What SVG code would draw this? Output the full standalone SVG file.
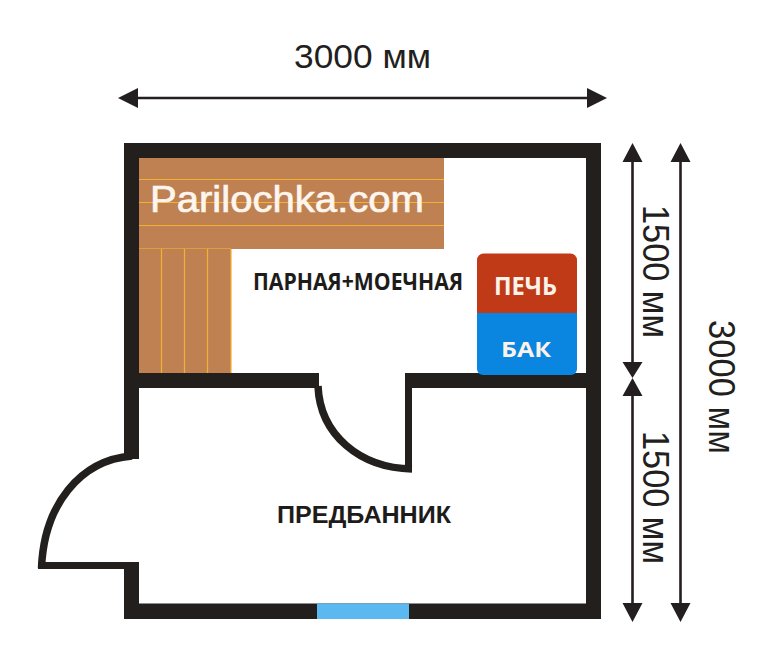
<svg xmlns="http://www.w3.org/2000/svg" width="768" height="668" viewBox="0 0 768 668">
<style>
.wall{fill:#231f1c}
.arc{fill:none;stroke:#231f1c;stroke-width:7.500}
.seam{stroke:#f2b132;stroke-width:1.2;fill:none}
.dim{stroke:#231f20;stroke-width:2.6;fill:none}
.head{fill:#231f20}
.d{font-family:"Liberation Sans",Arial,sans-serif;font-size:33px;fill:#231f20}
.v{font-size:37px}
.l{font-family:"Open Sans","Noto Sans",sans-serif;font-weight:700;fill:#1e1c1a}
.w{font-family:"Open Sans","Noto Sans",sans-serif;font-weight:700;fill:#fbf3ea}
</style>
<rect width="768" height="668" fill="#fff"/>
<g id="bench">
<path d="M139 157H444V249H231V373H139Z" fill="#bf8152"/>
<path class="seam" d="M139 179.500H444M139 202.500H444M139 225.500H444M161.500 249V373M184.500 249V373M207.500 249V373M231 249V373"/>
<path d="M139 248.500H231" stroke="#f2b132" stroke-width="0.6" fill="none"/>
</g>
<g id="walls">
<rect class="wall" x="124" y="143" width="477" height="15"/>
<rect class="wall" x="124" y="143" width="15" height="316"/>
<rect class="wall" x="586" y="143" width="15" height="476"/>
<rect class="wall" x="124" y="603.500" width="477" height="15.500"/>
<rect class="wall" x="124" y="562" width="15" height="57"/>
<rect class="wall" x="38" y="562" width="86" height="7"/>
<rect class="wall" x="124" y="373" width="195" height="15"/>
<rect class="wall" x="405" y="373" width="196" height="15"/>
<rect class="wall" x="405" y="373" width="7" height="99"/>
<path class="arc" d="M318 386C320 435 360 468 412 469"/>
<path class="arc" d="M132 456C80 460 44 505 41.500 568"/>
</g>
<rect id="window" x="317" y="603.500" width="92" height="15.500" fill="#5bb8f1"/>
<g id="stove"><path d="M477 313V260a6.500 6.500 0 0 1 6.500-6.500H570.500a6.500 6.500 0 0 1 6.500 6.500V313Z" fill="#c03a17"/><text class="w" x="525.500" y="295" text-anchor="middle" font-size="25" textLength="63" lengthAdjust="spacingAndGlyphs">ПЕЧЬ</text></g>
<g id="tank"><path d="M477 313H577V369a6 6 0 0 1-6 6H483a6 6 0 0 1-6-6Z" fill="#0a85e0"/><text class="w" x="526" y="357" text-anchor="middle" font-size="22" textLength="50" lengthAdjust="spacingAndGlyphs">БАК</text></g>
<g id="labels">
<text x="150" y="212" font-family="'Liberation Sans',Arial,sans-serif" font-size="37" fill="#fdf6ee" stroke="#fdf6ee" stroke-width="0.7" textLength="274" lengthAdjust="spacingAndGlyphs">Parilochka.com</text>
<text class="l" x="253" y="290" font-size="23" textLength="210" lengthAdjust="spacingAndGlyphs">ПАРНАЯ+МОЕЧНАЯ</text>
<text x="277" y="523" font-family="'Liberation Sans',Arial,sans-serif" font-weight="700" font-size="24" fill="#1e1c1a" textLength="174" lengthAdjust="spacingAndGlyphs">ПРЕДБАННИК</text>
</g>
<g id="connectors">
<path class="dim" d="M136 98H590M632.500 160V362M632.500 396V604M680.500 160V604"/>
<path class="head" d="M118 98L138 88V108ZM607 98L587 88V108ZM632.500 143L642.500 162H622.500ZM632.500 622L622.500 603H642.500ZM632.500 378L622.500 362H642.500ZM632.500 378L622.500 396H642.500ZM680.500 143L690.500 162H670.500ZM680.500 622L670.500 603H690.500Z"/>
</g>
<g id="dimensions">
<text class="d" x="362.500" y="68" text-anchor="middle" textLength="137" lengthAdjust="spacingAndGlyphs">3000 мм</text>
<text class="d v" transform="translate(643 205) rotate(90)" textLength="133" lengthAdjust="spacingAndGlyphs">1500 мм</text>
<text class="d v" transform="translate(643 431) rotate(90)" textLength="133" lengthAdjust="spacingAndGlyphs">1500 мм</text>
<text class="d v" transform="translate(709 320) rotate(90)" textLength="134" lengthAdjust="spacingAndGlyphs">3000 мм</text>
</g>
</svg>
